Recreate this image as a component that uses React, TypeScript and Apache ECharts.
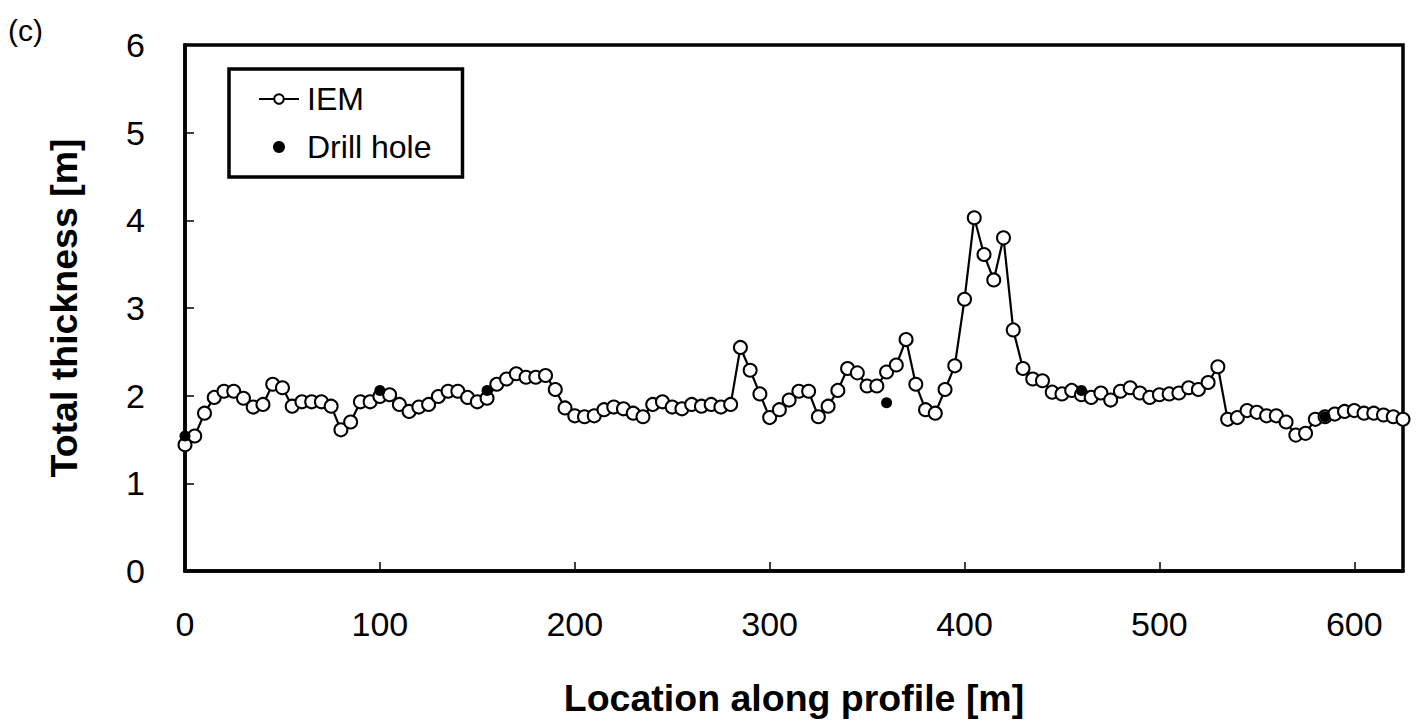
import React, { useEffect, useRef } from "react";
import * as echarts from "echarts";

const locations: number[] = [
  0, 5, 10, 15, 20, 25, 30, 35, 40, 45, 50, 55, 60, 65, 70, 75, 80, 85, 90, 95,
  100, 105, 110, 115, 120, 125, 130, 135, 140, 145, 150, 155, 160, 165, 170, 175, 180, 185, 190, 195,
  200, 205, 210, 215, 220, 225, 230, 235, 240, 245, 250, 255, 260, 265, 270, 275, 280, 285, 290, 295,
  300, 305, 310, 315, 320, 325, 330, 335, 340, 345, 350, 355, 360, 365, 370, 375, 380, 385, 390, 395,
  400, 405, 410, 415, 420, 425, 430, 435, 440, 445, 450, 455, 460, 465, 470, 475, 480, 485, 490, 495,
  500, 505, 510, 515, 520, 525, 530, 535, 540, 545, 550, 555, 560, 565, 570, 575, 580, 585, 590, 595,
  600, 605, 610, 615, 620, 625,
];

const iemThickness: number[] = [
  1.44, 1.54, 1.80, 1.98, 2.05, 2.05, 1.97, 1.87, 1.90, 2.13, 2.09, 1.88, 1.93, 1.93, 1.93, 1.88, 1.61, 1.70, 1.93, 1.93,
  1.99, 2.01, 1.90, 1.82, 1.87, 1.90, 1.99, 2.05, 2.05, 1.98, 1.93, 1.97, 2.13, 2.19, 2.25, 2.21, 2.21, 2.23, 2.07, 1.86,
  1.77, 1.76, 1.77, 1.84, 1.87, 1.85, 1.80, 1.76, 1.90, 1.93, 1.87, 1.85, 1.90, 1.88, 1.90, 1.87, 1.90, 2.55, 2.29, 2.02,
  1.75, 1.84, 1.95, 2.05, 2.05, 1.76, 1.88, 2.06, 2.31, 2.26, 2.11, 2.11, 2.27, 2.35, 2.64, 2.13, 1.84, 1.80, 2.07, 2.34,
  3.10, 4.03, 3.61, 3.32, 3.80, 2.75, 2.31, 2.19, 2.17, 2.04, 2.02, 2.06, 2.01, 1.98, 2.03, 1.95, 2.05, 2.09, 2.03, 1.98,
  2.01, 2.02, 2.03, 2.09, 2.07, 2.15, 2.33, 1.73, 1.75, 1.83, 1.81, 1.77, 1.77, 1.70, 1.55, 1.57, 1.73, 1.76, 1.79, 1.82,
  1.83, 1.80, 1.80, 1.78, 1.76, 1.73,
];

const drillLocations: number[] = [0, 100, 155, 360, 460, 585];
const drillThickness: number[] = [1.54, 2.06, 2.06, 1.92, 2.06, 1.76];

const panelLabel = "(c)";
const xAxisTitle = "Location along profile [m]";
const yAxisTitle = "Total thickness [m]";
const seriesNames = ["IEM", "Drill hole"];

const FONT = "'Liberation Sans', Arial, Helvetica, sans-serif";

export default function App() {
  const ref = useRef<HTMLDivElement>(null);

  useEffect(() => {
    if (!ref.current) return;
    const chart = echarts.init(ref.current, undefined, { renderer: "svg" });

    const iemData = locations.map((x, i) => [x, iemThickness[i]]);
    const drillData = drillLocations.map((x, i) => [x, drillThickness[i]]);

    chart.setOption({
      animation: false,
      backgroundColor: "#fff",
      textStyle: { fontFamily: FONT, color: "#000" },
      grid: {
        left: 185,
        right: 15,
        top: 45,
        bottom: 148,
        show: true,
        borderColor: "#000",
        borderWidth: 3.5,
        backgroundColor: "transparent",
      },
      graphic: [
        {
          type: "text",
          left: 8,
          top: 15,
          style: {
            text: panelLabel,
            fontSize: 30,
            fontFamily: FONT,
            fill: "#000",
          },
        },
      ],
      legend: {
        left: 229,
        top: 69,
        orient: "vertical",
        backgroundColor: "#fff",
        borderColor: "#000",
        borderWidth: 3.5,
        padding: [14, 31, 14, 29],
        itemGap: 16,
        itemWidth: 40,
        itemHeight: 12,
        data: seriesNames,
        textStyle: {
          fontFamily: FONT,
          fontSize: 32,
          lineHeight: 32,
          color: "#000",
          padding: [0, 0, 0, 3],
        },
      },
      xAxis: {
        type: "value",
        min: 0,
        max: 625,
        interval: 100,
        name: xAxisTitle,
        nameLocation: "middle",
        nameGap: 108,
        nameTextStyle: {
          fontFamily: FONT,
          fontSize: 37.5,
          fontWeight: "bold",
          color: "#000",
        },
        axisLine: { show: true, lineStyle: { color: "#000", width: 3.5 } },
        axisTick: { show: true, inside: true, length: 9, lineStyle: { color: "#000", width: 1.5 } },
        axisLabel: {
          fontFamily: FONT,
          fontSize: 34,
          color: "#000",
          margin: 36,
          showMaxLabel: false,
        },
        splitLine: { show: false },
      },
      yAxis: {
        type: "value",
        min: 0,
        max: 6,
        interval: 1,
        name: yAxisTitle,
        nameLocation: "middle",
        nameGap: 102,
        nameTextStyle: {
          fontFamily: FONT,
          fontSize: 37.5,
          fontWeight: "bold",
          color: "#000",
        },
        axisLine: { show: true, lineStyle: { color: "#000", width: 3.5 } },
        axisTick: { show: true, inside: true, length: 9, lineStyle: { color: "#000", width: 1.5 } },
        axisLabel: {
          fontFamily: FONT,
          fontSize: 34,
          color: "#000",
          margin: 40,
        },
        splitLine: { show: false },
      },
      series: [
        {
          name: seriesNames[0],
          type: "line",
          data: iemData,
          symbol: "emptyCircle",
          symbolSize: 13,
          showAllSymbol: true,
          clip: false,
          color: "#000",
          lineStyle: { color: "#000", width: 2.2 },
          itemStyle: { color: "#000", borderWidth: 1.5 },
          z: 2,
        },
        {
          name: seriesNames[1],
          type: "scatter",
          data: drillData,
          symbol: "circle",
          symbolSize: 11,
          color: "#000",
          itemStyle: { color: "#000", opacity: 1 },
          z: 10,
        },
      ],
    });

    return () => chart.dispose();
  }, []);

  return (
    <div
      ref={ref}
      style={{ position: "absolute", left: 0, top: 0, width: 1418, height: 722 }}
    />
  );
}
